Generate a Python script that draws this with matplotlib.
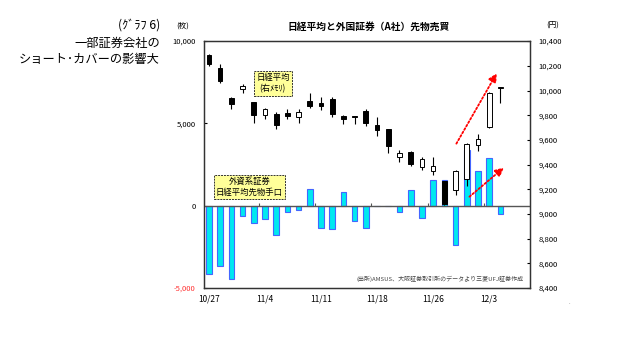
import matplotlib
matplotlib.use("Agg")
import matplotlib.pyplot as plt
import numpy as np

plt.rcParams['font.family'] = ['Noto Sans CJK JP', 'DejaVu Sans']

# 営業日 (2009/10/27 - 12/4)
dates = ['10/27', '10/28', '10/29', '10/30', '11/2', '11/4', '11/5', '11/6', '11/9',
         '11/10', '11/11', '11/12', '11/13', '11/16', '11/17', '11/18', '11/19', '11/20',
         '11/24', '11/25', '11/26', '11/27', '11/30', '12/1', '12/2', '12/3', '12/4']
label_dates = ['10/27', '11/4', '11/11', '11/18', '11/26', '12/3']

# 日経平均 (右メモリ) 四本値
nk_open = [10287, 10181, 9938, 10011, 9904, 9801, 9809, 9815, 9782, 9914, 9896, 9930, 9795,
           9795, 9836, 9720, 9690, 9458, 9504, 9380, 9350, 9264, 9194, 9280, 9558, 9706, 10018]
nk_high = [10292, 10214, 9947, 10049, 9906, 9855, 9825, 9849, 9849, 9981, 9950, 9944, 9800,
           9797, 9849, 9782, 9692, 9517, 9510, 9463, 9458, 9268, 9355, 9572, 9647, 9985, 10027]
nk_low = [10200, 10062, 9849, 9981, 9734, 9766, 9687, 9768, 9736, 9855, 9841, 9782, 9726,
          9726, 9712, 9631, 9491, 9420, 9386, 9358, 9315, 9070, 9153, 9228, 9512, 9700, 9896]
nk_close = [10214, 10076, 9890, 10038, 9803, 9847, 9720, 9790, 9823, 9874, 9876, 9809, 9768,
            9787, 9734, 9679, 9550, 9491, 9402, 9442, 9388, 9078, 9347, 9568, 9609, 9981, 10025]

# 外資系証券 日経平均先物手口 (枚)
futures = [-4140, -3680, -4480, -630, -1050, -810, -1760, -390, -240, 1010, -1350, -1410, 810,
           -900, -1330, 0, 0, -380, 950, -730, 1580, 1540, -2400, 3400, 2100, 2910, -480]

left_ticks = [-5000, 0, 5000, 10000]
right_ticks = list(range(8400, 10401, 200))

x = np.arange(len(dates))

fig = plt.figure(figsize=(6.35, 3.4), dpi=100)
fig.subplots_adjust(left=0.321, right=0.835, bottom=0.153, top=0.879)
ax = fig.add_subplot(111)
ax2 = ax.twinx()

# 先物手口の棒
ax.bar(x, futures, width=0.5, color='#00E8F0', edgecolor='#4466FF', linewidth=0.8, zorder=2)
ax.axhline(0, color='#555555', linewidth=1.0, zorder=3)
week_breaks = [i - 0.5 for i, d in enumerate(dates) if d in label_dates[1:]]
ax.vlines(week_breaks, 0, 160, color='#555555', linewidth=0.8, zorder=3)

ax.set_xlim(-0.45, 28.66)
ax.set_ylim(-5000, 10000)
ax.set_yticks(left_ticks)
ax.set_yticklabels(['{:,}'.format(v) for v in left_ticks])
ax.get_yticklabels()[0].set_color('#FF3030')
ax.set_xticks([dates.index(d) for d in label_dates])
ax.set_xticklabels(label_dates)
ax.tick_params(axis='x', length=0, pad=5, labelsize=6)
ax.tick_params(axis='y', direction='in', length=2.5, pad=6, labelsize=5.5)

# ローソク足
for i in x:
    o, h, l, c = nk_open[i], nk_high[i], nk_low[i], nk_close[i]
    ax2.vlines(i, l, h, color='black', linewidth=0.8, zorder=3)
    fc = 'white' if c >= o else 'black'
    ax2.bar(i, max(abs(c - o), 6), bottom=min(o, c), width=0.42, color=fc,
            edgecolor='black', linewidth=0.7, zorder=4)

ax2.set_ylim(8400, 10400)
ax2.set_yticks(right_ticks)
ax2.set_yticklabels(['{:,}'.format(v) for v in right_ticks])
ax2.tick_params(axis='y', direction='in', length=2.5, pad=6, labelsize=5.5)

for a in (ax, ax2):
    for s in a.spines.values():
        s.set_color('#333333')
        s.set_linewidth(0.9)

# 矢印
arrow_kw = dict(arrowstyle='-|>,head_length=0.5,head_width=0.25', color='red',
                linestyle=(0, (1, 1.2)), linewidth=1.3)
ax2.annotate('', xy=(25.8, 10160), xytext=(21.95, 9550), arrowprops=arrow_kw, zorder=6)
ax2.annotate('', xy=(26.5, 9390), xytext=(23.05, 9125), arrowprops=arrow_kw, zorder=6)

# ラベル枠
box_kw = dict(boxstyle='square,pad=0.25', fc='#FFFF99', ec='#333333', ls=(0, (2, 1)), lw=0.7)
ax2.text(5.7, 10056, '日経平均\n(右ﾒﾓﾘ)', ha='center', va='center', fontsize=6,
         linespacing=1.3, bbox=box_kw, zorder=7)
ax.text(3.6, 1120, '外資系証券\n日経平均先物手口', ha='center', va='center', fontsize=6,
        linespacing=1.3, bbox=box_kw, zorder=7)

ax.text(0.979, 0.035, '(出所)AMSUS、大阪証券取引所のデータより三菱UFJ証券作成',
        transform=ax.transAxes, ha='right', va='center', fontsize=4.3, color='#444444')

# タイトル等
fig.text(369 / 635, 1 - 27 / 340, '日経平均と外国証券（A社）先物売買', ha='center', va='center',
         fontsize=7, fontweight='bold')
fig.text(183 / 635, 1 - 26 / 340, '(枚)', ha='center', va='center', fontsize=5.5)
fig.text(553 / 635, 1 - 26 / 340, '(円)', ha='center', va='center', fontsize=5.5)
fig.text(160 / 635, 1 - 25 / 340, '(ｸﾞﾗﾌ 6)', ha='right', va='center', fontsize=8.8)
fig.text(160 / 635, 1 - 43 / 340, '一部証券会社の', ha='right', va='center', fontsize=8.8)
fig.text(160 / 635, 1 - 59 / 340, 'ショート･カバーの影響大', ha='right', va='center', fontsize=8.8)
fig.text(569 / 635, 1 - 303 / 340, '.', ha='center', va='center', fontsize=4, color='#666666')

fig.savefig('out.png', dpi=100, facecolor='white')
